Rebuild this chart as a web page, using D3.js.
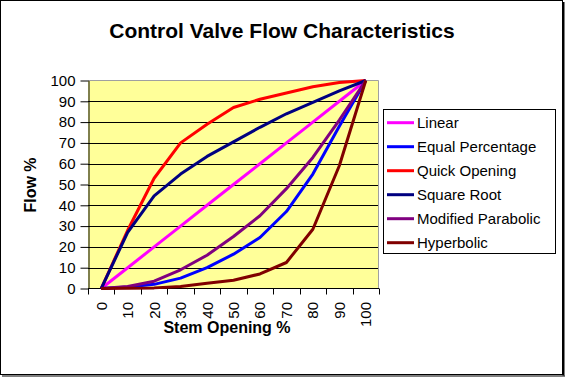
<!DOCTYPE html>
<html>
<head>
<meta charset="utf-8">
<script src="https://cdn.jsdelivr.net/npm/d3@7"></script>
<style>
  body { margin: 0; background: #fff; }
  svg { display: block; font-family: Arial, "Liberation Sans", sans-serif; }
</style>
</head>
<body>
<svg id="chart" width="565" height="377"></svg>
<script>
// x categories (stem opening %)
const stemOpening = [0, 10, 20, 30, 40, 50, 60, 70, 80, 90, 100];
const yTicks = [0, 10, 20, 30, 40, 50, 60, 70, 80, 90, 100];

// series values
const linear = [0, 10, 20, 30, 40, 50, 60, 70, 80, 90, 100];
const equalPercentage = [0, 0.7, 2, 5, 10, 16.5, 24.5, 37, 55, 78, 100];
const quickOpening = [0, 28, 53, 70, 79, 87, 91, 94, 97, 99, 100];
const squareRoot = [0, 27, 44.5, 55, 63.5, 70.5, 77.5, 84, 89.5, 95, 100];
const modifiedParabolic = [0, 1, 3.5, 9, 16, 25, 35, 48, 63, 81, 100];
const hyperbolic = [0, 0.1, 0.3, 1, 2.5, 4, 7, 12.5, 28.5, 59, 100];

const seriesNames = ["Linear", "Equal Percentage", "Quick Opening", "Square Root", "Modified Parabolic", "Hyperbolic"];
const seriesValues = [linear, equalPercentage, quickOpening, squareRoot, modifiedParabolic, hyperbolic];
const seriesColours = ["#FF00FF", "#0000FF", "#FF0000", "#000080", "#800080", "#800000"];

const svg = d3.select("#chart");

// outer frame with a little shadow on right / bottom
svg.append("rect").attr("x", 0.5).attr("y", 0.5).attr("width", 562).attr("height", 374)
    .attr("fill", "#fff").attr("stroke", "#000");
svg.append("line").attr("x1", 563.5).attr("x2", 563.5).attr("y1", 2).attr("y2", 376)
    .attr("stroke", "#000").attr("stroke-width", 2);
svg.append("line").attr("x1", 2).attr("x2", 565).attr("y1", 376).attr("y2", 376)
    .attr("stroke", "#555").attr("stroke-width", 1.5);

const plot = { left: 88, right: 379, top: 80.5, bottom: 288.5 };

const x = d3.scaleBand().domain(stemOpening).range([plot.left, plot.right]);
const y = d3.scaleLinear().domain([0, 100]).range([plot.bottom, plot.top]);

// plot background
svg.append("rect")
    .attr("x", plot.left).attr("y", plot.top)
    .attr("width", plot.right - plot.left).attr("height", plot.bottom - plot.top)
    .attr("fill", "#FFFF99");

// gridlines
svg.append("g").selectAll("line")
    .data(yTicks.filter(d => d > 0 && d < 100))
    .enter().append("line")
    .attr("x1", plot.left).attr("x2", plot.right)
    .attr("y1", d => Math.round(y(d)) + 0.5).attr("y2", d => Math.round(y(d)) + 0.5)
    .attr("stroke", "#000");

// grey top / right border of plot area
svg.append("path")
    .attr("d", `M${plot.left},${plot.top}H${plot.right - 0.5}V${plot.bottom}`)
    .attr("fill", "none").attr("stroke", "#A0A0A0");

// y axis
const yAxis = svg.append("g")
    .attr("transform", `translate(${plot.left + 0.5},0)`)
    .call(d3.axisLeft(y).tickValues(yTicks).tickSize(8).tickPadding(5).tickSizeOuter(0));
yAxis.select(".domain").attr("stroke", "#000");
yAxis.selectAll(".tick line").attr("stroke", "#000");
yAxis.selectAll("text").attr("font-size", 15).attr("font-family", null).attr("fill", "#000");

// x axis: ticks between categories
const boundaries = d3.range(stemOpening.length + 1).map(i => plot.left + i * x.step());
const xAxis = svg.append("g");
xAxis.append("line")
    .attr("x1", plot.left).attr("x2", plot.right)
    .attr("y1", plot.bottom).attr("y2", plot.bottom)
    .attr("stroke", "#000");
xAxis.selectAll("line.tick")
    .data(boundaries)
    .enter().append("line")
    .attr("class", "tick")
    .attr("x1", d => Math.round(d) + 0.5).attr("x2", d => Math.round(d) + 0.5)
    .attr("y1", plot.bottom).attr("y2", plot.bottom + 6)
    .attr("stroke", "#000");
xAxis.selectAll("text")
    .data(stemOpening)
    .enter().append("text")
    .attr("transform", d => `translate(${x(d) + x.bandwidth() / 2 + 5.5},302) rotate(-90)`)
    .attr("text-anchor", "end")
    .attr("font-size", 15)
    .text(d => d);

// series lines
const line = d3.line()
    .x((d, i) => x(stemOpening[i]) + x.bandwidth() / 2)
    .y(d => y(d));

svg.append("g").selectAll("path")
    .data(seriesValues)
    .enter().append("path")
    .attr("d", d => line(d))
    .attr("fill", "none")
    .attr("stroke", (d, i) => seriesColours[i])
    .attr("stroke-width", 3)
    .attr("stroke-linejoin", "round");

// titles
svg.append("text")
    .attr("x", 282).attr("y", 38)
    .attr("text-anchor", "middle")
    .attr("font-size", 21).attr("font-weight", "bold")
    .text("Control Valve Flow Characteristics");

svg.append("text")
    .attr("x", 227).attr("y", 333)
    .attr("text-anchor", "middle")
    .attr("font-size", 16).attr("font-weight", "bold")
    .text("Stem Opening %");

svg.append("text")
    .attr("transform", "translate(36,185) rotate(-90)")
    .attr("text-anchor", "middle")
    .attr("font-size", 16).attr("font-weight", "bold")
    .text("Flow %");

// legend
const legend = svg.append("g");
legend.append("rect")
    .attr("x", 383.5).attr("y", 109.5)
    .attr("width", 172).attr("height", 144)
    .attr("fill", "#fff").attr("stroke", "#000");

const entry = legend.selectAll("g.entry")
    .data(seriesNames)
    .enter().append("g")
    .attr("class", "entry")
    .attr("transform", (d, i) => `translate(0,${122.7 + i * 24})`);
entry.append("line")
    .attr("x1", 387).attr("x2", 414)
    .attr("stroke", (d, i) => seriesColours[i])
    .attr("stroke-width", 3);
entry.append("text")
    .attr("x", 417).attr("y", 5.5)
    .attr("font-size", 15)
    .text(d => d);
</script>
</body>
</html>
